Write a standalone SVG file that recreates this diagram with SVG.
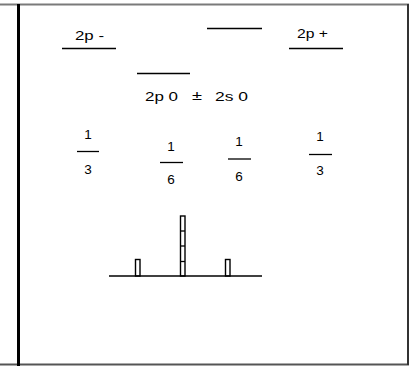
<svg xmlns="http://www.w3.org/2000/svg" width="412" height="366" viewBox="0 0 412 366">
<style>
.t{font-family:"Liberation Sans",Arial,sans-serif;font-size:12px;fill:#000}
.f{font-family:"Liberation Sans",Arial,sans-serif;font-size:13.5px;fill:#000;text-anchor:middle}
.lv{stroke:#000;stroke-width:1.3;fill:none}
.bar{stroke:#000;stroke-width:1.4;fill:#fff}
</style>
<rect x="0" y="0" width="412" height="366" fill="#fff"/>
<g id="frame">
<line x1="0" y1="4.5" x2="409" y2="4.5" stroke="#7a7a7a" stroke-width="2"/>
<line x1="0" y1="364.5" x2="409" y2="364.5" stroke="#555" stroke-width="2"/>
<line x1="408" y1="4" x2="408" y2="365" stroke="#333" stroke-width="2"/>
<line x1="18.5" y1="4" x2="18.5" y2="366" stroke="#000" stroke-width="3"/>
</g>
<g id="level-2pminus">
<line class="lv" x1="62" y1="48.5" x2="116" y2="48.5"/>
<text class="t" x="75" y="40" textLength="29" lengthAdjust="spacingAndGlyphs">2p -</text>
</g>
<g id="level-top">
<line class="lv" x1="207" y1="28.5" x2="262" y2="28.5"/>
</g>
<g id="level-2pplus">
<line class="lv" x1="289" y1="48.5" x2="343" y2="48.5"/>
<text class="t" x="297" y="38" textLength="31" lengthAdjust="spacingAndGlyphs">2p +</text>
</g>
<g id="level-2p0">
<line class="lv" x1="137" y1="73.5" x2="190" y2="73.5"/>
<text class="t" x="145" y="101" textLength="33" lengthAdjust="spacingAndGlyphs">2p 0</text>
<text class="t" x="192" y="100" textLength="10" lengthAdjust="spacingAndGlyphs">±</text>
<text class="t" x="215" y="101" textLength="33" lengthAdjust="spacingAndGlyphs">2s 0</text>
</g>
<g id="frac1">
<text class="f" x="88" y="139">1</text>
<line class="lv" x1="77" y1="151.5" x2="99" y2="151.5"/>
<text class="f" x="88" y="174">3</text>
</g>
<g id="frac2">
<text class="f" x="171" y="151">1</text>
<line class="lv" x1="160" y1="162.5" x2="183" y2="162.5"/>
<text class="f" x="171" y="184">6</text>
</g>
<g id="frac3">
<text class="f" x="239" y="146">1</text>
<line class="lv" x1="228" y1="159" x2="251" y2="159"/>
<text class="f" x="239" y="181">6</text>
</g>
<g id="frac4">
<text class="f" x="320" y="141">1</text>
<line class="lv" x1="309" y1="154.5" x2="332" y2="154.5"/>
<text class="f" x="320" y="175">3</text>
</g>
<g id="spectrum">
<rect class="bar" x="135.5" y="259.5" width="4.5" height="16.5"/>
<rect class="bar" x="180.5" y="216" width="4.5" height="60"/>
<line class="lv" x1="180.5" y1="231" x2="185" y2="231"/>
<line class="lv" x1="180.5" y1="246" x2="185" y2="246"/>
<line class="lv" x1="180.5" y1="261.5" x2="185" y2="261.5"/>
<rect class="bar" x="225.5" y="259.5" width="4.5" height="16.5"/>
<line x1="109" y1="276" x2="262" y2="276" stroke="#000" stroke-width="1.5"/>
</g>
<g id="connectors"></g>
</svg>
